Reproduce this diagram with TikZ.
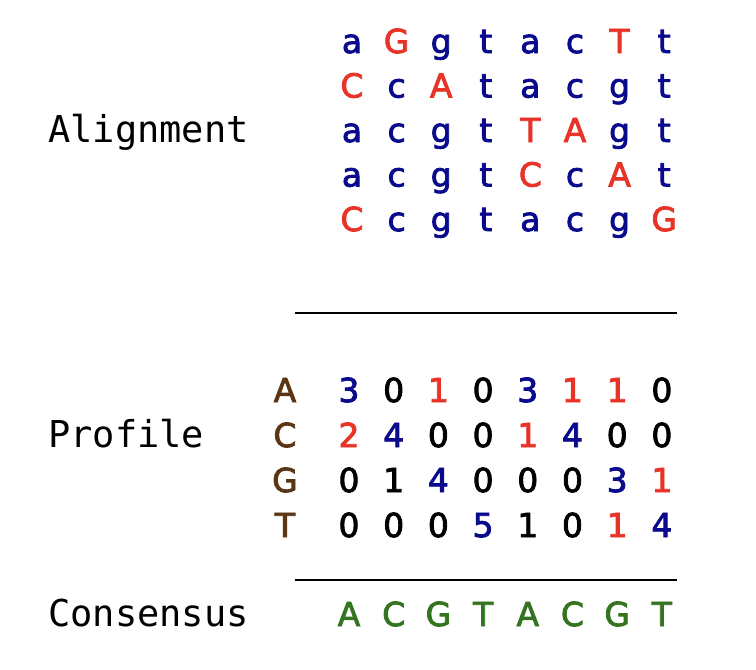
\documentclass[tikz,border=0pt]{standalone}
\usepackage{fontspec}
\setmainfont{DejaVu Sans}
\newfontfamily\seqfont[FakeBold=2.5]{DejaVu Sans}
\newfontfamily\labelfont{DejaVu Sans Mono}
\definecolor{B}{RGB}{10,10,140}
\definecolor{R}{RGB}{232,52,40}
\definecolor{K}{RGB}{0,0,0}
\definecolor{Brn}{RGB}{92,54,20}
\definecolor{Grn}{RGB}{52,116,32}
\begin{document}
\begin{tikzpicture}[x=1pt,y=-1pt,
  seq/.style={anchor=base,inner sep=0pt,font=\seqfont\fontsize{33}{38}\selectfont},
  lbl/.style={anchor=base west,inner sep=0pt,font=\labelfont\fontsize{37}{42}\selectfont},
  rule/.style={line width=2.5pt,black}]
\useasboundingbox (0,0) rectangle (756,670);
% labels
\node[lbl] (alab) at (48,142) {Alignment};
\node[lbl] (plab) at (48,447) {Profile};
\node[lbl] (clab) at (48,626) {Consensus};
% alignment
\foreach \r/\lst in {
  1/{a/B,G/R,g/B,t/B,a/B,c/B,T/R,t/B},
  2/{C/R,c/B,A/R,t/B,a/B,c/B,g/B,t/B},
  3/{a/B,c/B,g/B,t/B,T/R,A/R,g/B,t/B},
  4/{a/B,c/B,g/B,t/B,C/R,c/B,A/R,t/B},
  5/{C/R,c/B,g/B,t/B,a/B,c/B,g/B,G/R}}{
  \foreach \ch/\cl [count=\i from 0] in \lst {
    \node[seq,text=\cl] (al-\r-\i) at ({352+44.6*\i},{53+44.5*(\r-1)}) {\ch};
  }
}
% rules
\coordinate (r1a) at (295,313);
\coordinate (r1b) at (677,313);
\draw[rule] (r1a) -- (r1b);
% profile
\foreach \r/\base/\lst in {
  A/0/{3/B,0/K,1/R,0/K,3/B,1/R,1/R,0/K},
  C/1/{2/R,4/B,0/K,0/K,1/R,4/B,0/K,0/K},
  G/2/{0/K,1/K,4/B,0/K,0/K,0/K,3/B,1/R},
  T/3/{0/K,0/K,0/K,5/B,1/K,0/K,1/R,4/B}}{
  \node[seq,text=Brn] (pl-\r) at (285,{402+45*\base}) {\r};
  \foreach \ch/\cl [count=\i from 0] in \lst {
    \node[seq,text=\cl] (pr-\r-\i) at ({349+44.7*\i},{402+45*\base}) {\ch};
  }
}
\coordinate (r2a) at (295,580);
\coordinate (r2b) at (677,580);
\draw[rule] (r2a) -- (r2b);
% consensus
\foreach \ch [count=\i from 0] in {A,C,G,T,A,C,G,T}{
  \node[seq,text=Grn] (cs-\i) at ({349+44.7*\i},626) {\ch};
}
\end{tikzpicture}
\end{document}
